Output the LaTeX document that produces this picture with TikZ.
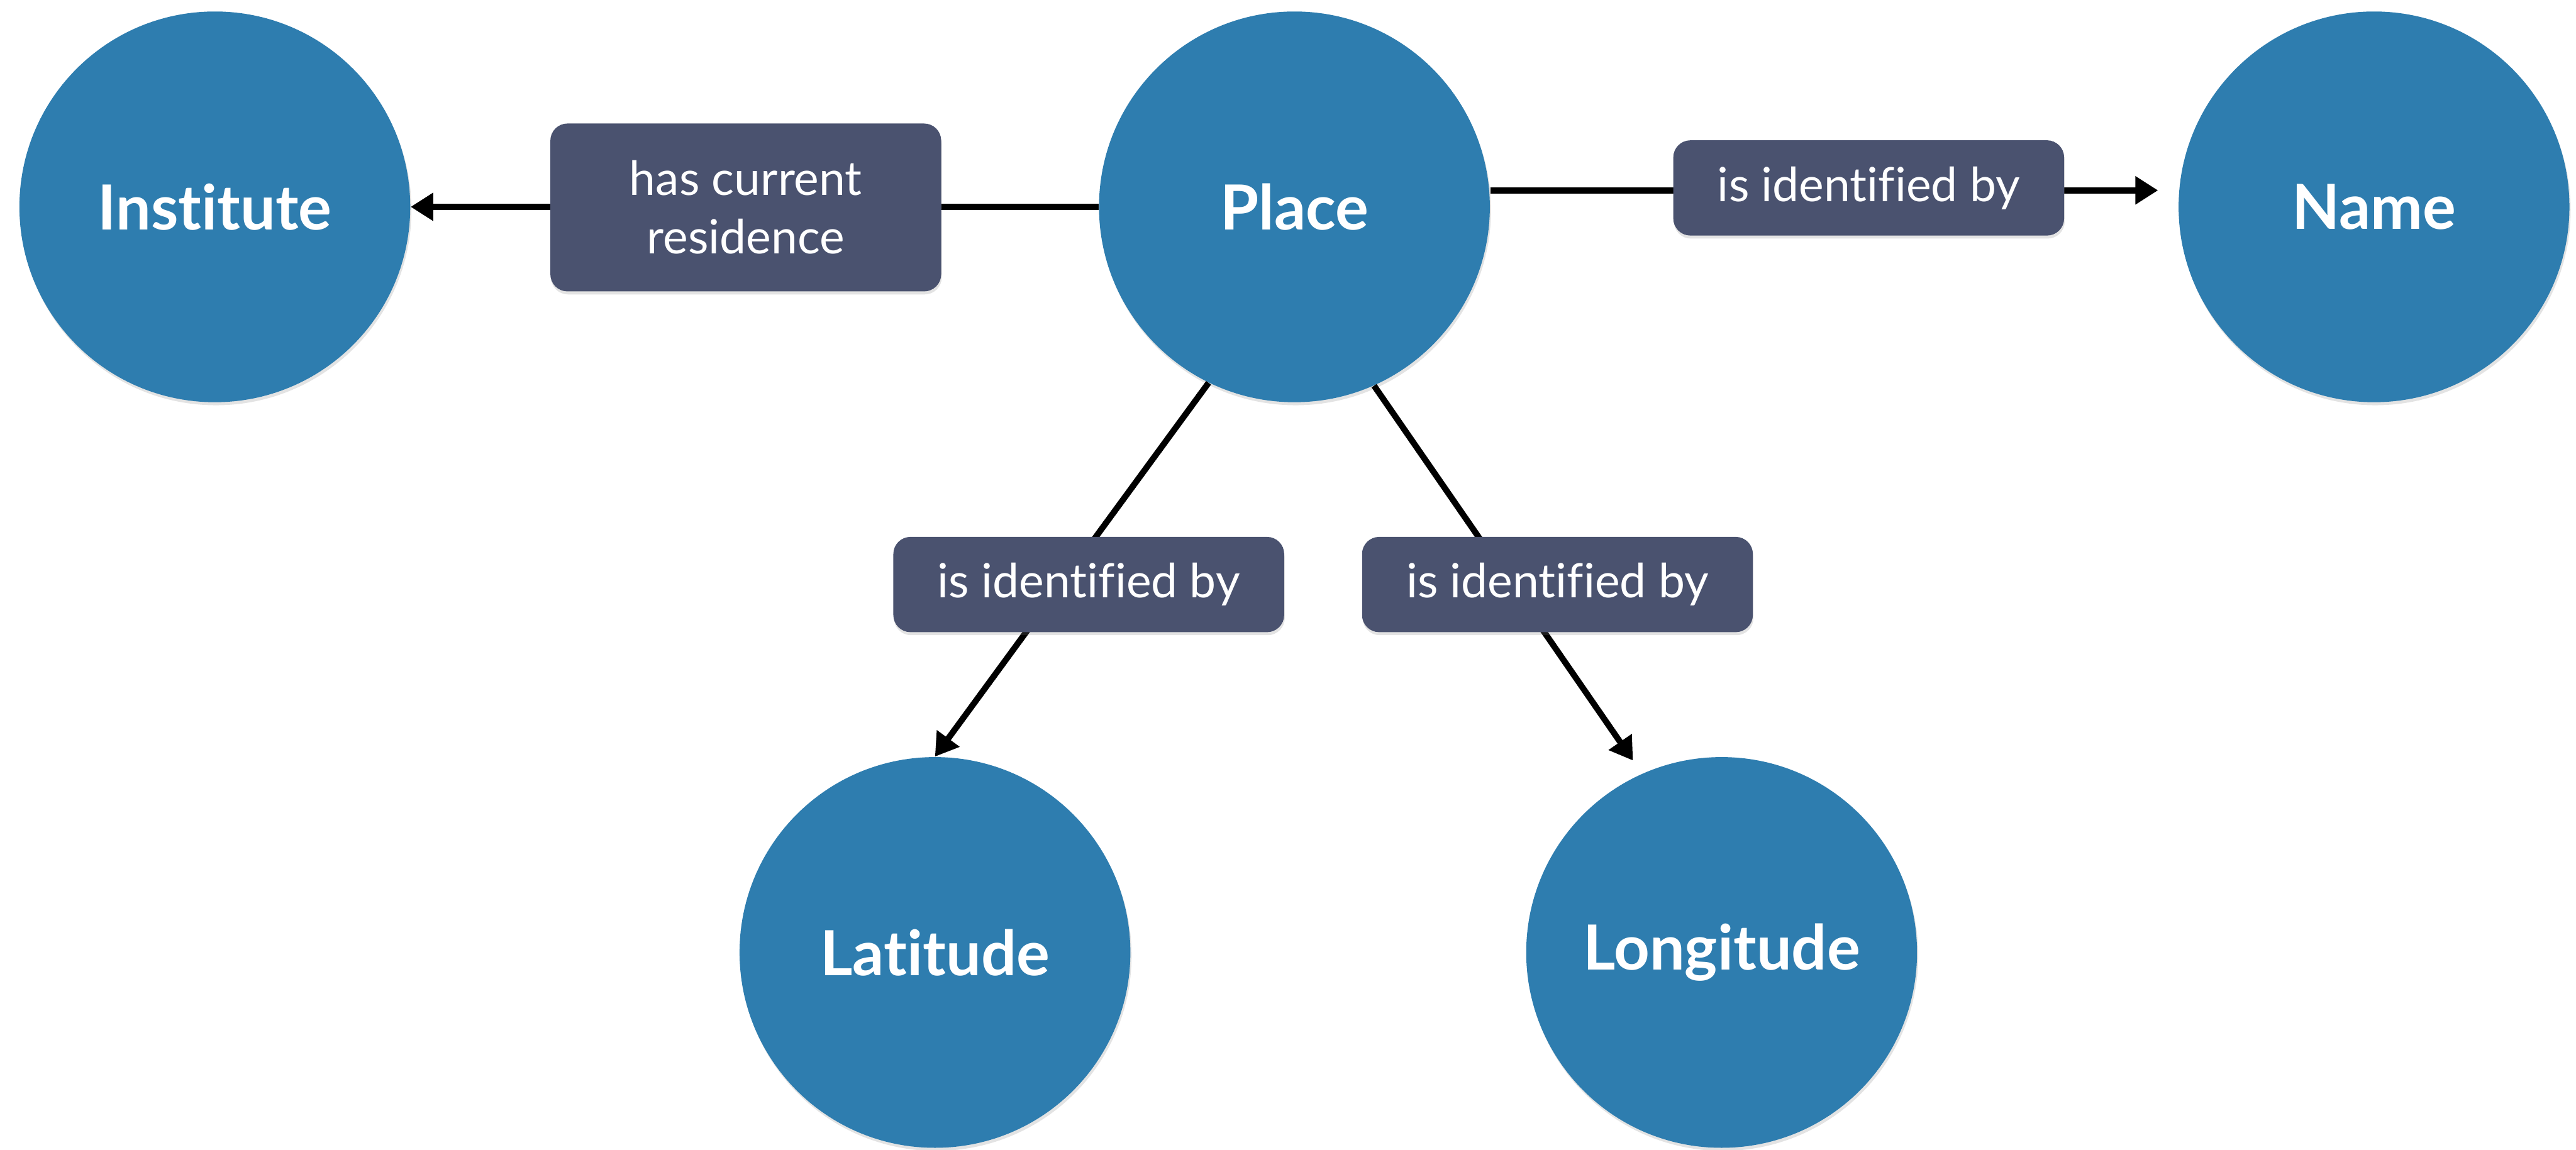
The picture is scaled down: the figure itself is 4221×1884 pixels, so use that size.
\documentclass[tikz,border=0pt]{standalone}
\usepackage{fontspec}
\setmainfont{Lato}[Ligatures=NoCommon]
\usetikzlibrary{arrows.meta,shadows}

\definecolor{nodeblue}{HTML}{2E7DAF}
\definecolor{labelslate}{HTML}{4A526F}

\tikzset{
  entity/.style={circle, fill=nodeblue, minimum size=6.4cm, inner sep=0pt,
    text=white, font=\fontsize{29}{34}\selectfont\bfseries,
    drop shadow={shadow xshift=0.02cm, shadow yshift=-0.05cm, opacity=0.22}},
  relation/.style={rectangle, rounded corners=0.28cm, fill=labelslate,
    text=white, minimum width=6.4cm, minimum height=1.56cm, inner sep=0pt,
    align=center, font=\fontsize{22}{27.3}\selectfont,
    drop shadow={shadow xshift=0.01cm, shadow yshift=-0.05cm, opacity=0.22}},
  link/.style={line width=0.1cm, draw=black,
    -{Triangle[length=0.37cm, width=0.44cm]}},
}

\begin{document}
\begin{tikzpicture}[x=0.01cm, y=-0.01cm]
  \useasboundingbox (0,0) rectangle (4221,1884);

  % entities
  \node[entity] (institute) at (352,339)   {Institute};
  \node[entity] (place)     at (2121,339)  {Place};
  \node[entity] (name)      at (3890,339)  {Name};
  \node[entity] (latitude)  at (1532,1561) {Latitude};
  \node[entity] (longitude) at (2821,1561) {Longitude};

  % relations
  \draw[link] (place.west) -- (institute.east);
  \draw[link, shorten >=0.33cm] ([yshift=0.27cm]place.east) -- ([yshift=0.27cm]name.west);
  \draw[link] (place.244) -- (latitude.north);
  \draw[link, shorten >=0.26cm] (place.294) -- (longitude.114);

  % relation labels
  \node[relation, minimum height=2.75cm] (residence) at (1222,340) {has current\\residence};
  \node[relation] (namelabel) at (3062,308) {is identified by};
  \node[relation] (latlabel)  at (1784,958) {is identified by};
  \node[relation] (longlabel) at (2552,958) {is identified by};
\end{tikzpicture}
\end{document}
